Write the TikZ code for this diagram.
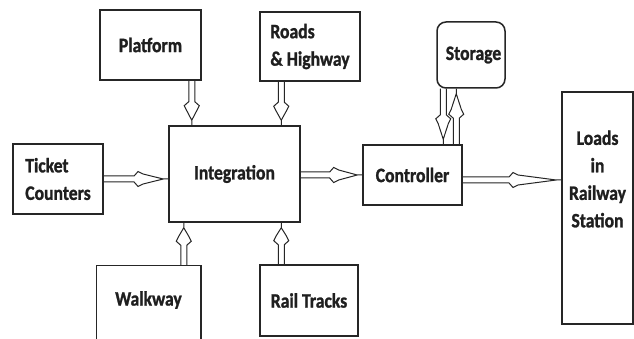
\documentclass[tikz,border=0pt]{standalone}
\usepackage{fontspec}
\newfontfamily\lbl{Carlito}[FakeStretch=0.86,FakeBold=1.2]
\usetikzlibrary{calc}
\tikzset{
  box/.style={draw=black!85, line width=1.5pt, inner sep=0pt, align=center,
    font=\lbl\bfseries\fontsize{20.5}{27.5}\selectfont, text=black!88},
  boxline/.style={draw=black!85, line width=1.5pt},
  blk/.style={draw=black!85, line width=1pt, line join=miter, to path={
    let \p1=(\tikztostart), \p2=(\tikztotarget),
        \n1={veclen(\x2-\x1,\y2-\y1)}, \n2={atan2(\y2-\y1,\x2-\x1)},
        \n3={0.47*\n1}, \n4={0.47*\n1+4pt}, \n5={0.47*\n1+9pt}, \n6={\n1-5pt}
    in ($(\p1)+(\n2+90:3pt)$) -- ($(\p1)+(\n2:\n3)+(\n2+90:3pt)$)
    -- ($(\p1)+(\n2:\n4)+(\n2+90:7.5pt)$)
    -- ($(\p1)+(\n2:\n5)+(\n2+90:5pt)$)
    -- ($(\p1)+(\n2:\n6)$)
    -- ($(\p1)+(\n2:\n5)+(\n2-90:5pt)$)
    -- ($(\p1)+(\n2:\n4)+(\n2-90:7.5pt)$)
    -- ($(\p1)+(\n2:\n3)+(\n2-90:3pt)$)
    -- ($(\p1)+(\n2-90:3pt)$)
    ($(\p1)+(\n2:\n6)$) -- (\p2)
  }}
}
\begin{document}
\begin{tikzpicture}[x=1pt,y=-1pt]
\useasboundingbox (0,0) rectangle (634,339);
\clip (0,0) rectangle (634,339);
\fill[white] (0,0) rectangle (634,339);

\node[box, minimum width=101pt, minimum height=70pt] (plat) at (150.5,45) {Platform};
\node[box, align=left, minimum width=100pt, minimum height=69pt] (roads) at (310,46.5) {Roads\\\& Highway};
\node[box, rounded corners=9pt, minimum width=68pt, minimum height=66pt] (stor) at (471,55) {\hspace*{5pt}Storage};
\node[box, minimum width=131pt, minimum height=96pt] (integ) at (234.5,174) {Integration};
\node[box, align=left, minimum width=90pt, minimum height=70pt] (ticket) at (58,179) {Ticket\\Counters};
\node[box, draw=none, minimum width=103pt, minimum height=68pt] (walk) at (148.5,300) {Walkway};
\draw[boxline] ([yshift=-10pt]walk.south west) -- (walk.north west) -- (walk.north east) -- ([yshift=-10pt]walk.south east);
\node[box, minimum width=98pt, minimum height=71pt] (rail) at (309,300.5) {Rail Tracks};
\node[box, minimum width=99pt, minimum height=60pt] (ctrl) at (412.5,175) {Controller};
\node[box, minimum width=71pt, minimum height=232pt] (loads) at (597.5,208) {};
\node[box, draw=none] (loadstxt) at (597.5,179) {Loads\\in\\Railway\\Station};

\coordinate (pa) at ([xshift=-10pt]plat.south east);
\coordinate (ra) at ([xshift=22pt]roads.south west);
\coordinate (wa) at ([xshift=-17pt]walk.north east);
\coordinate (rt) at ([xshift=22pt]rail.north west);
\coordinate (sd) at ([xshift=7pt]stor.south west);
\coordinate (su) at ([xshift=20pt]stor.south west);
\coordinate (ce) at ([yshift=-5pt]ctrl.east);

\draw[blk] (pa) to (pa |- integ.north);
\draw[blk] (ra) to (ra |- integ.north);
\draw[blk] (ticket.east) to (ticket.east -| integ.west);
\draw[blk] (wa) to (wa |- integ.south);
\draw[blk] (rt) to (rt |- integ.south);
\draw[blk] (ctrl.west -| integ.east) to (ctrl.west);
\draw[blk] (ce) to (ce -| loads.west);
\draw[blk] (sd) to (sd |- ctrl.north);
\draw[blk] (su |- ctrl.north) to (su);
\end{tikzpicture}
\end{document}
